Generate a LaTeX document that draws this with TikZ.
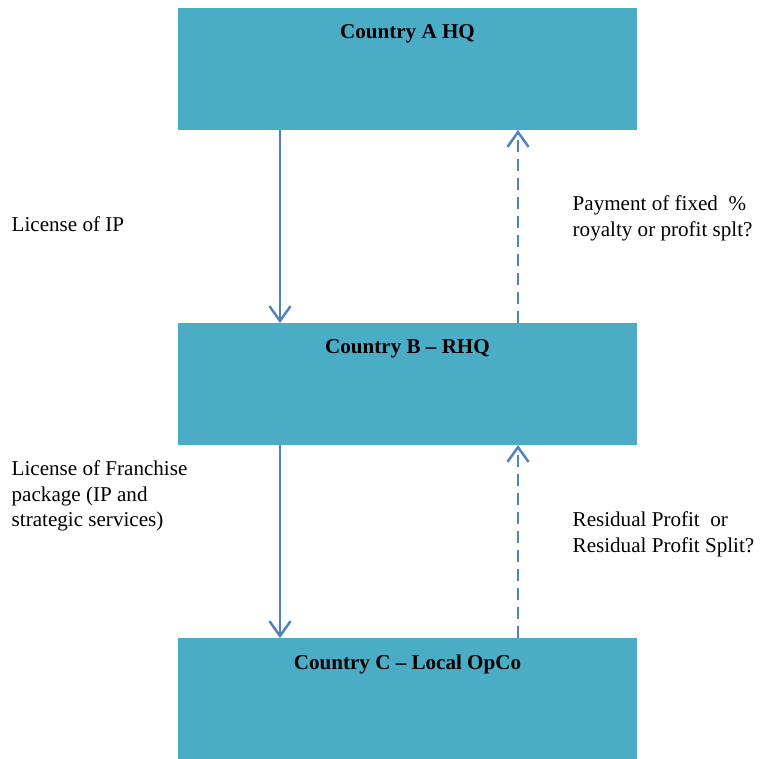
\documentclass[tikz,border=0pt]{standalone}
\usepackage{fontspec}
\setmainfont{Liberation Serif}
\usetikzlibrary{calc,arrows.meta}

\definecolor{boxblue}{HTML}{4BACC6}
\definecolor{arrowblue}{HTML}{4F81BD}

\tikzset{
  countrybox/.style={fill=boxblue, draw=none, rectangle, minimum width=4.59cm,
    minimum height=1.22cm, inner sep=0pt, outer sep=0pt},
  boxtitle/.style={anchor=north, inner sep=0pt, font=\fontsize{6}{7.1}\selectfont\bfseries},
  flowlabel/.style={anchor=north west, inner sep=0pt, align=left,
    font=\fontsize{6}{7.3}\selectfont},
  flowarrow/.style={arrowblue, line width=0.7pt, -{Straight Barb[length=4.2pt,width=6pt]}},
  backarrow/.style={flowarrow, dash pattern=on 3.4pt off 2pt}
}

\begin{document}
\begin{tikzpicture}
\useasboundingbox (0,0) rectangle (7.68,-7.58);

% the three boxes
\node[countrybox, anchor=north west,
  label={[boxtitle, yshift=-0.16cm]north:Country A HQ}] (hqA) at (1.78,-0.08) {};
\node[countrybox, anchor=north west,
  label={[boxtitle, yshift=-0.16cm]north:Country B -- RHQ}] (rhqB) at (1.78,-3.23) {};
\node[countrybox, anchor=north west,
  label={[boxtitle, yshift=-0.16cm]north:Country C -- Local OpCo}] (opcoC) at (1.78,-6.38) {};

% licences going down
\coordinate (ipFrom) at ($(hqA.south west)+(1.02,0)$);
\coordinate (ipTo) at ($(rhqB.north west)+(1.02,0)$);
\draw[flowarrow] (ipFrom) -- (ipTo);
\coordinate (fpFrom) at ($(rhqB.south west)+(1.02,0)$);
\coordinate (fpTo) at ($(opcoC.north west)+(1.02,0)$);
\draw[flowarrow] (fpFrom) -- (fpTo);

% payments going up
\coordinate (royFrom) at ($(rhqB.north west)+(3.40,0)$);
\coordinate (royTo) at ($(hqA.south west)+(3.40,0)$);
\draw[backarrow] (royFrom) -- (royTo);
\coordinate (resFrom) at ($(opcoC.north west)+(3.40,0)$);
\coordinate (resTo) at ($(rhqB.south west)+(3.40,0)$);
\draw[backarrow] (resFrom) -- (resTo);

% labels
\node[flowlabel] (ipLabel) at (0.11,-2.16) {License of IP};
\node[flowlabel] (franchiseLabel) at (0.11,-4.60) {License of Franchise\\package (IP and\\strategic services)};
\node[flowlabel] (royaltyLabel) at (5.72,-1.95) {Payment of fixed~~\%\\royalty or profit splt?};
\node[flowlabel] (residualLabel) at (5.72,-5.11) {Residual Profit~~or\\Residual Profit Split?};
\end{tikzpicture}
\end{document}
